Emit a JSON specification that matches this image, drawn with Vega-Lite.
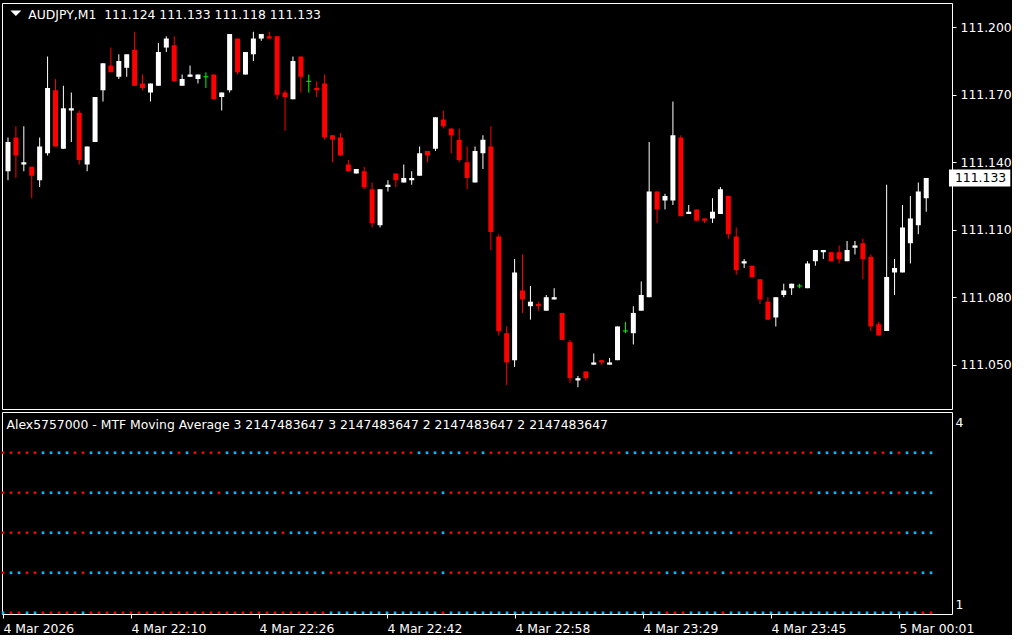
{
"$schema": "https://vega.github.io/schema/vega-lite/v6.json",
"background": "#000000",
"padding": {"left": 1, "top": 2, "right": 0, "bottom": 0},
"spacing": 3,
"bounds": "flush",
"config": {
  "view": {"stroke": "#ffffff", "strokeWidth": 1},
  "font": "DejaVu Sans",
  "axis": {"labelColor": "#ffffff", "labelFont": "DejaVu Sans", "labelFontSize": 12.4, "tickColor": "#ffffff", "domain": false, "grid": false, "title": null}
},
"datasets": {
"bars": [
{"i":0,"o":111.136,"h":111.151,"l":111.132,"c":111.149},
{"i":1,"o":111.151,"h":111.156,"l":111.133,"c":111.143},
{"i":2,"o":111.139,"h":111.156,"l":111.136,"c":111.140},
{"i":3,"o":111.138,"h":111.138,"l":111.124,"c":111.134},
{"i":4,"o":111.132,"h":111.151,"l":111.129,"c":111.147},
{"i":5,"o":111.144,"h":111.187,"l":111.143,"c":111.173},
{"i":6,"o":111.172,"h":111.177,"l":111.147,"c":111.147},
{"i":7,"o":111.146,"h":111.174,"l":111.146,"c":111.164},
{"i":8,"o":111.163,"h":111.171,"l":111.149,"c":111.164},
{"i":9,"o":111.162,"h":111.163,"l":111.139,"c":111.141},
{"i":10,"o":111.139,"h":111.147,"l":111.136,"c":111.147},
{"i":11,"o":111.149,"h":111.169,"l":111.149,"c":111.169},
{"i":12,"o":111.172,"h":111.184,"l":111.167,"c":111.184},
{"i":13,"o":111.183,"h":111.191,"l":111.180,"c":111.180},
{"i":14,"o":111.178,"h":111.188,"l":111.177,"c":111.185},
{"i":15,"o":111.182,"h":111.188,"l":111.178,"c":111.188},
{"i":16,"o":111.190,"h":111.198,"l":111.174,"c":111.174},
{"i":17,"o":111.175,"h":111.179,"l":111.172,"c":111.173},
{"i":18,"o":111.171,"h":111.175,"l":111.167,"c":111.175},
{"i":19,"o":111.174,"h":111.193,"l":111.174,"c":111.189},
{"i":20,"o":111.191,"h":111.196,"l":111.189,"c":111.195},
{"i":21,"o":111.192,"h":111.196,"l":111.176,"c":111.176},
{"i":22,"o":111.174,"h":111.179,"l":111.174,"c":111.177},
{"i":23,"o":111.178,"h":111.183,"l":111.178,"c":111.179},
{"i":24,"o":111.177,"h":111.179,"l":111.175,"c":111.179},
{"i":25,"o":111.178,"h":111.180,"l":111.173,"c":111.178},
{"i":26,"o":111.179,"h":111.179,"l":111.168,"c":111.168},
{"i":27,"o":111.169,"h":111.171,"l":111.163,"c":111.171},
{"i":28,"o":111.172,"h":111.197,"l":111.171,"c":111.197},
{"i":29,"o":111.195,"h":111.195,"l":111.179,"c":111.180},
{"i":30,"o":111.179,"h":111.189,"l":111.179,"c":111.189},
{"i":31,"o":111.188,"h":111.198,"l":111.185,"c":111.195},
{"i":32,"o":111.195,"h":111.197,"l":111.194,"c":111.197},
{"i":33,"o":111.196,"h":111.198,"l":111.195,"c":111.195},
{"i":34,"o":111.196,"h":111.196,"l":111.168,"c":111.170},
{"i":35,"o":111.171,"h":111.172,"l":111.154,"c":111.169},
{"i":36,"o":111.168,"h":111.187,"l":111.168,"c":111.185},
{"i":37,"o":111.187,"h":111.187,"l":111.171,"c":111.178},
{"i":38,"o":111.176,"h":111.179,"l":111.171,"c":111.176},
{"i":39,"o":111.173,"h":111.176,"l":111.169,"c":111.172},
{"i":40,"o":111.175,"h":111.179,"l":111.150,"c":111.151},
{"i":41,"o":111.152,"h":111.152,"l":111.140,"c":111.150},
{"i":42,"o":111.151,"h":111.153,"l":111.143,"c":111.143},
{"i":43,"o":111.139,"h":111.141,"l":111.136,"c":111.136},
{"i":44,"o":111.135,"h":111.137,"l":111.135,"c":111.137},
{"i":45,"o":111.136,"h":111.138,"l":111.128,"c":111.129},
{"i":46,"o":111.128,"h":111.131,"l":111.111,"c":111.113},
{"i":47,"o":111.112,"h":111.128,"l":111.111,"c":111.128},
{"i":48,"o":111.129,"h":111.132,"l":111.127,"c":111.130},
{"i":49,"o":111.135,"h":111.135,"l":111.129,"c":111.132},
{"i":50,"o":111.131,"h":111.139,"l":111.131,"c":111.133},
{"i":51,"o":111.132,"h":111.136,"l":111.130,"c":111.133},
{"i":52,"o":111.134,"h":111.147,"l":111.134,"c":111.144},
{"i":53,"o":111.145,"h":111.145,"l":111.140,"c":111.143},
{"i":54,"o":111.146,"h":111.160,"l":111.145,"c":111.160},
{"i":55,"o":111.159,"h":111.163,"l":111.155,"c":111.156},
{"i":56,"o":111.155,"h":111.155,"l":111.144,"c":111.152},
{"i":57,"o":111.150,"h":111.155,"l":111.140,"c":111.141},
{"i":58,"o":111.140,"h":111.147,"l":111.128,"c":111.133},
{"i":59,"o":111.131,"h":111.147,"l":111.131,"c":111.145},
{"i":60,"o":111.144,"h":111.152,"l":111.137,"c":111.150},
{"i":61,"o":111.147,"h":111.156,"l":111.101,"c":111.109},
{"i":62,"o":111.107,"h":111.108,"l":111.063,"c":111.065},
{"i":63,"o":111.064,"h":111.067,"l":111.041,"c":111.051},
{"i":64,"o":111.052,"h":111.097,"l":111.049,"c":111.091},
{"i":65,"o":111.083,"h":111.099,"l":111.073,"c":111.079},
{"i":66,"o":111.076,"h":111.085,"l":111.070,"c":111.078},
{"i":67,"o":111.077,"h":111.078,"l":111.074,"c":111.076},
{"i":68,"o":111.074,"h":111.081,"l":111.074,"c":111.080},
{"i":69,"o":111.079,"h":111.084,"l":111.079,"c":111.080},
{"i":70,"o":111.073,"h":111.073,"l":111.061,"c":111.061},
{"i":71,"o":111.060,"h":111.061,"l":111.042,"c":111.044},
{"i":72,"o":111.043,"h":111.045,"l":111.040,"c":111.044},
{"i":73,"o":111.047,"h":111.047,"l":111.043,"c":111.044},
{"i":74,"o":111.050,"h":111.055,"l":111.050,"c":111.051},
{"i":75,"o":111.052,"h":111.052,"l":111.050,"c":111.051},
{"i":76,"o":111.050,"h":111.053,"l":111.050,"c":111.051},
{"i":77,"o":111.052,"h":111.067,"l":111.052,"c":111.067},
{"i":78,"o":111.065,"h":111.069,"l":111.064,"c":111.065},
{"i":79,"o":111.064,"h":111.076,"l":111.059,"c":111.073},
{"i":80,"o":111.074,"h":111.087,"l":111.074,"c":111.081},
{"i":81,"o":111.080,"h":111.149,"l":111.080,"c":111.127},
{"i":82,"o":111.127,"h":111.127,"l":111.113,"c":111.119},
{"i":83,"o":111.123,"h":111.126,"l":111.119,"c":111.125},
{"i":84,"o":111.123,"h":111.167,"l":111.121,"c":111.152},
{"i":85,"o":111.151,"h":111.152,"l":111.116,"c":111.116},
{"i":86,"o":111.117,"h":111.121,"l":111.117,"c":111.118},
{"i":87,"o":111.119,"h":111.119,"l":111.114,"c":111.114},
{"i":88,"o":111.115,"h":111.115,"l":111.113,"c":111.114},
{"i":89,"o":111.115,"h":111.124,"l":111.113,"c":111.118},
{"i":90,"o":111.117,"h":111.129,"l":111.117,"c":111.128},
{"i":91,"o":111.125,"h":111.125,"l":111.106,"c":111.108},
{"i":92,"o":111.107,"h":111.111,"l":111.090,"c":111.092},
{"i":93,"o":111.095,"h":111.097,"l":111.093,"c":111.096},
{"i":94,"o":111.094,"h":111.094,"l":111.089,"c":111.089},
{"i":95,"o":111.088,"h":111.088,"l":111.077,"c":111.079},
{"i":96,"o":111.078,"h":111.080,"l":111.070,"c":111.070},
{"i":97,"o":111.071,"h":111.080,"l":111.067,"c":111.080},
{"i":98,"o":111.081,"h":111.086,"l":111.080,"c":111.083},
{"i":99,"o":111.084,"h":111.086,"l":111.081,"c":111.086},
{"i":100,"o":111.085,"h":111.086,"l":111.084,"c":111.085},
{"i":101,"o":111.084,"h":111.096,"l":111.084,"c":111.095},
{"i":102,"o":111.096,"h":111.101,"l":111.094,"c":111.101},
{"i":103,"o":111.100,"h":111.101,"l":111.097,"c":111.101},
{"i":104,"o":111.100,"h":111.100,"l":111.096,"c":111.096},
{"i":105,"o":111.100,"h":111.103,"l":111.095,"c":111.097},
{"i":106,"o":111.096,"h":111.105,"l":111.096,"c":111.101},
{"i":107,"o":111.102,"h":111.105,"l":111.099,"c":111.103},
{"i":108,"o":111.104,"h":111.106,"l":111.088,"c":111.097},
{"i":109,"o":111.098,"h":111.099,"l":111.065,"c":111.067},
{"i":110,"o":111.068,"h":111.069,"l":111.063,"c":111.063},
{"i":111,"o":111.065,"h":111.130,"l":111.065,"c":111.089},
{"i":112,"o":111.091,"h":111.097,"l":111.081,"c":111.093},
{"i":113,"o":111.091,"h":111.121,"l":111.091,"c":111.111},
{"i":114,"o":111.104,"h":111.125,"l":111.095,"c":111.115},
{"i":115,"o":111.112,"h":111.131,"l":111.108,"c":111.127},
{"i":116,"o":111.124,"h":111.133,"l":111.118,"c":111.133}
],
"ma": [
{"i":0,"5":"R","4":"R","3":"R","2":"R","1":"B"},
{"i":1,"5":"R","4":"R","3":"R","2":"B","1":"R"},
{"i":2,"5":"R","4":"R","3":"R","2":"B","1":"R"},
{"i":3,"5":"R","4":"R","3":"R","2":"R","1":"B"},
{"i":4,"5":"R","4":"R","3":"R","2":"R","1":"B"},
{"i":5,"5":"B","4":"B","3":"B","2":"B","1":"R"},
{"i":6,"5":"B","4":"B","3":"B","2":"B","1":"R"},
{"i":7,"5":"B","4":"B","3":"B","2":"B","1":"R"},
{"i":8,"5":"B","4":"B","3":"B","2":"B","1":"R"},
{"i":9,"5":"R","4":"R","3":"R","2":"B","1":"R"},
{"i":10,"5":"R","4":"R","3":"R","2":"R","1":"B"},
{"i":11,"5":"B","4":"B","3":"B","2":"B","1":"R"},
{"i":12,"5":"B","4":"B","3":"B","2":"B","1":"R"},
{"i":13,"5":"B","4":"B","3":"B","2":"B","1":"R"},
{"i":14,"5":"B","4":"B","3":"B","2":"B","1":"R"},
{"i":15,"5":"B","4":"B","3":"B","2":"B","1":"R"},
{"i":16,"5":"B","4":"B","3":"B","2":"B","1":"R"},
{"i":17,"5":"B","4":"B","3":"B","2":"B","1":"R"},
{"i":18,"5":"B","4":"B","3":"B","2":"B","1":"R"},
{"i":19,"5":"B","4":"B","3":"B","2":"B","1":"R"},
{"i":20,"5":"B","4":"B","3":"B","2":"B","1":"R"},
{"i":21,"5":"B","4":"B","3":"B","2":"B","1":"R"},
{"i":22,"5":"R","4":"B","3":"B","2":"B","1":"R"},
{"i":23,"5":"B","4":"B","3":"B","2":"B","1":"R"},
{"i":24,"5":"R","4":"B","3":"B","2":"B","1":"R"},
{"i":25,"5":"R","4":"B","3":"B","2":"B","1":"R"},
{"i":26,"5":"R","4":"B","3":"B","2":"B","1":"R"},
{"i":27,"5":"R","4":"R","3":"B","2":"B","1":"R"},
{"i":28,"5":"B","4":"B","3":"B","2":"B","1":"R"},
{"i":29,"5":"B","4":"B","3":"B","2":"B","1":"R"},
{"i":30,"5":"B","4":"B","3":"B","2":"B","1":"R"},
{"i":31,"5":"B","4":"B","3":"B","2":"B","1":"R"},
{"i":32,"5":"B","4":"B","3":"B","2":"B","1":"R"},
{"i":33,"5":"B","4":"B","3":"B","2":"B","1":"R"},
{"i":34,"5":"R","4":"B","3":"B","2":"B","1":"R"},
{"i":35,"5":"R","4":"R","3":"R","2":"B","1":"R"},
{"i":36,"5":"R","4":"B","3":"B","2":"B","1":"R"},
{"i":37,"5":"R","4":"B","3":"B","2":"B","1":"R"},
{"i":38,"5":"R","4":"R","3":"B","2":"B","1":"R"},
{"i":39,"5":"R","4":"R","3":"B","2":"B","1":"R"},
{"i":40,"5":"R","4":"R","3":"R","2":"B","1":"R"},
{"i":41,"5":"R","4":"R","3":"R","2":"R","1":"B"},
{"i":42,"5":"R","4":"R","3":"R","2":"R","1":"B"},
{"i":43,"5":"R","4":"R","3":"R","2":"R","1":"B"},
{"i":44,"5":"R","4":"R","3":"R","2":"R","1":"B"},
{"i":45,"5":"R","4":"R","3":"R","2":"R","1":"B"},
{"i":46,"5":"R","4":"R","3":"R","2":"R","1":"B"},
{"i":47,"5":"R","4":"R","3":"R","2":"R","1":"B"},
{"i":48,"5":"R","4":"R","3":"R","2":"R","1":"B"},
{"i":49,"5":"R","4":"R","3":"R","2":"R","1":"B"},
{"i":50,"5":"R","4":"R","3":"R","2":"R","1":"B"},
{"i":51,"5":"R","4":"R","3":"R","2":"R","1":"B"},
{"i":52,"5":"B","4":"R","3":"R","2":"R","1":"B"},
{"i":53,"5":"B","4":"R","3":"R","2":"R","1":"B"},
{"i":54,"5":"B","4":"R","3":"R","2":"R","1":"B"},
{"i":55,"5":"B","4":"B","3":"B","2":"B","1":"R"},
{"i":56,"5":"B","4":"R","3":"R","2":"R","1":"B"},
{"i":57,"5":"B","4":"R","3":"R","2":"R","1":"B"},
{"i":58,"5":"R","4":"R","3":"R","2":"R","1":"B"},
{"i":59,"5":"R","4":"R","3":"R","2":"R","1":"B"},
{"i":60,"5":"B","4":"R","3":"R","2":"R","1":"B"},
{"i":61,"5":"R","4":"R","3":"R","2":"R","1":"B"},
{"i":62,"5":"R","4":"R","3":"R","2":"R","1":"B"},
{"i":63,"5":"R","4":"R","3":"R","2":"R","1":"B"},
{"i":64,"5":"R","4":"R","3":"R","2":"R","1":"B"},
{"i":65,"5":"R","4":"R","3":"R","2":"R","1":"B"},
{"i":66,"5":"R","4":"R","3":"R","2":"R","1":"B"},
{"i":67,"5":"R","4":"R","3":"R","2":"R","1":"B"},
{"i":68,"5":"R","4":"R","3":"R","2":"R","1":"B"},
{"i":69,"5":"R","4":"R","3":"R","2":"R","1":"B"},
{"i":70,"5":"R","4":"R","3":"R","2":"R","1":"B"},
{"i":71,"5":"R","4":"R","3":"R","2":"R","1":"B"},
{"i":72,"5":"R","4":"R","3":"R","2":"R","1":"B"},
{"i":73,"5":"R","4":"R","3":"R","2":"R","1":"B"},
{"i":74,"5":"R","4":"R","3":"R","2":"R","1":"B"},
{"i":75,"5":"R","4":"R","3":"R","2":"R","1":"B"},
{"i":76,"5":"R","4":"R","3":"R","2":"R","1":"B"},
{"i":77,"5":"R","4":"R","3":"R","2":"R","1":"B"},
{"i":78,"5":"B","4":"R","3":"R","2":"R","1":"B"},
{"i":79,"5":"B","4":"R","3":"R","2":"R","1":"B"},
{"i":80,"5":"B","4":"R","3":"R","2":"R","1":"B"},
{"i":81,"5":"B","4":"B","3":"B","2":"R","1":"B"},
{"i":82,"5":"B","4":"B","3":"B","2":"R","1":"B"},
{"i":83,"5":"B","4":"B","3":"B","2":"B","1":"R"},
{"i":84,"5":"B","4":"B","3":"B","2":"B","1":"R"},
{"i":85,"5":"B","4":"B","3":"B","2":"B","1":"R"},
{"i":86,"5":"B","4":"B","3":"B","2":"R","1":"B"},
{"i":87,"5":"B","4":"B","3":"B","2":"R","1":"B"},
{"i":88,"5":"B","4":"B","3":"B","2":"R","1":"B"},
{"i":89,"5":"B","4":"B","3":"B","2":"R","1":"B"},
{"i":90,"5":"B","4":"B","3":"B","2":"B","1":"R"},
{"i":91,"5":"B","4":"B","3":"B","2":"R","1":"B"},
{"i":92,"5":"R","4":"R","3":"R","2":"R","1":"B"},
{"i":93,"5":"R","4":"R","3":"R","2":"R","1":"B"},
{"i":94,"5":"R","4":"R","3":"R","2":"R","1":"B"},
{"i":95,"5":"R","4":"R","3":"R","2":"R","1":"B"},
{"i":96,"5":"R","4":"R","3":"R","2":"R","1":"B"},
{"i":97,"5":"R","4":"R","3":"R","2":"R","1":"B"},
{"i":98,"5":"R","4":"R","3":"R","2":"R","1":"B"},
{"i":99,"5":"R","4":"R","3":"R","2":"R","1":"B"},
{"i":100,"5":"R","4":"R","3":"R","2":"R","1":"B"},
{"i":101,"5":"R","4":"R","3":"R","2":"R","1":"B"},
{"i":102,"5":"B","4":"B","3":"R","2":"R","1":"B"},
{"i":103,"5":"B","4":"B","3":"R","2":"R","1":"B"},
{"i":104,"5":"B","4":"B","3":"R","2":"R","1":"B"},
{"i":105,"5":"B","4":"B","3":"R","2":"R","1":"B"},
{"i":106,"5":"B","4":"B","3":"R","2":"R","1":"B"},
{"i":107,"5":"B","4":"B","3":"R","2":"R","1":"B"},
{"i":108,"5":"B","4":"R","3":"R","2":"R","1":"B"},
{"i":109,"5":"R","4":"R","3":"R","2":"R","1":"B"},
{"i":110,"5":"R","4":"R","3":"R","2":"R","1":"B"},
{"i":111,"5":"B","4":"B","3":"R","2":"R","1":"B"},
{"i":112,"5":"R","4":"R","3":"R","2":"R","1":"B"},
{"i":113,"5":"B","4":"B","3":"B","2":"R","1":"B"},
{"i":114,"5":"B","4":"B","3":"B","2":"R","1":"B"},
{"i":115,"5":"B","4":"B","3":"B","2":"B","1":"R"},
{"i":116,"5":"B","4":"B","3":"B","2":"B","1":"R"}
]
},
"vconcat": [
{
  "width": 950,
  "height": 406,
  "data": {"name": "bars"},
  "layer": [
    {
      "mark": {"type": "rule", "strokeWidth": 1},
      "encoding": {
        "x": {"field": "i", "type": "quantitative", "scale": {"domain": [-0.125, 118.625], "nice": false, "zero": false}, "axis": null},
        "y": {"field": "l", "type": "quantitative", "scale": {"domain": [111.0303, 111.2108], "nice": false, "zero": false},
              "axis": {"orient": "right", "values": [111.05, 111.08, 111.11, 111.14, 111.17, 111.2], "format": ".3f", "tickSize": 4, "labelPadding": 4}},
        "y2": {"field": "h"},
        "color": {"condition": [{"test": "datum.c == datum.o", "value": "#00ff00"}, {"test": "datum.c > datum.o", "value": "#ffffff"}], "value": "#ff0000"}
      }
    },
    {
      "transform": [{"filter": "datum.c != datum.o"}],
      "mark": {"type": "bar", "width": 5},
      "encoding": {
        "x": {"field": "i", "type": "quantitative"},
        "y": {"field": "o", "type": "quantitative"},
        "y2": {"field": "c"},
        "color": {"condition": {"test": "datum.c > datum.o", "value": "#ffffff"}, "value": "#ff0000"}
      }
    },
    {
      "transform": [{"filter": "datum.c == datum.o"}],
      "mark": {"type": "tick", "orient": "horizontal", "size": 5, "thickness": 1, "color": "#00ff00", "opacity": 1},
      "encoding": {
        "x": {"field": "i", "type": "quantitative"},
        "y": {"field": "o", "type": "quantitative"}
      }
    },
    {
      "transform": [{"filter": "datum.i == 116"}],
      "mark": {"type": "rect", "color": "#ffffff"},
      "encoding": {
        "x": {"datum": 118.875},
        "x2": {"datum": 126.625},
        "y": {"datum": 111.1368},
        "y2": {"datum": 111.1292}
      }
    },
    {
      "transform": [{"filter": "datum.i == 116"}],
      "mark": {"type": "text", "align": "left", "baseline": "middle", "color": "#000000", "fontSize": 12.4, "font": "DejaVu Sans"},
      "encoding": {
        "x": {"datum": 119.625},
        "y": {"field": "c", "type": "quantitative"},
        "text": {"field": "c", "format": ".3f"}
      }
    },
    {
      "data": {"values": [{"t": "AUDJPY,M1 \u00a0111.124 111.133 111.118 111.133"}]},
      "mark": {"type": "text", "align": "left", "baseline": "middle", "color": "#ffffff", "fontSize": 12.4, "font": "DejaVu Sans"},
      "encoding": {
        "x": {"datum": 2.5625},
        "y": {"datum": 111.2056},
        "text": {"field": "t"}
      }
    },
    {
      "data": {"values": [{"t": "menu"}]},
      "mark": {"type": "point", "shape": "M-1,-0.5L1,-0.5L0,0.5Z", "size": 121, "filled": true, "color": "#ffffff", "opacity": 1, "strokeWidth": 0},
      "encoding": {
        "x": {"datum": 1.0},
        "y": {"datum": 111.2062}
      }
    }
  ]
},
{
  "width": 950,
  "height": 202,
  "layer": [
    {
      "data": {"name": "ma"},
      "transform": [{"fold": ["5", "4", "3", "2", "1"], "as": ["lv", "col"]}],
      "mark": {"type": "point", "shape": "square", "filled": true, "size": 7, "opacity": 1, "strokeWidth": 0},
      "encoding": {
        "x": {"field": "i", "type": "quantitative", "scale": {"domain": [-0.125, 118.625], "nice": false, "zero": false},
              "axis": {"values": [0, 16, 32, 48, 64, 80, 96, 112], "labelAlign": "left", "labelFlush": false, "labelOverlap": false, "tickSize": 4, "labelPadding": 4,
                       "labelExpr": "datum.value == 0 ? '4 Mar 2026' : datum.value == 16 ? '4 Mar 22:10' : datum.value == 32 ? '4 Mar 22:26' : datum.value == 48 ? '4 Mar 22:42' : datum.value == 64 ? '4 Mar 22:58' : datum.value == 80 ? '4 Mar 23:29' : datum.value == 96 ? '4 Mar 23:45' : '5 Mar 00:01'"}},
        "y": {"field": "lv", "type": "quantitative", "scale": {"domain": [0.97, 6.02], "nice": false, "zero": false},
              "axis": {"orient": "right", "values": [5.7575, 1.2075], "labelExpr": "datum.value > 3 ? '4' : '1'", "ticks": false, "tickSize": 0, "labelPadding": 3}},
        "color": {"condition": {"test": "datum.col == 'R'", "value": "#ff0000"}, "value": "#00bfff"}
      }
    },
    {
      "data": {"values": [{"t": "Alex5757000 - MTF Moving Average 3 2147483647 3 2147483647 2 2147483647 2 2147483647"}]},
      "mark": {"type": "text", "align": "left", "baseline": "middle", "color": "#ffffff", "fontSize": 12.4, "font": "DejaVu Sans"},
      "encoding": {
        "x": {"datum": 0.4375},
        "y": {"datum": 5.7075},
        "text": {"field": "t"}
      }
    }
  ]
}
]
}
